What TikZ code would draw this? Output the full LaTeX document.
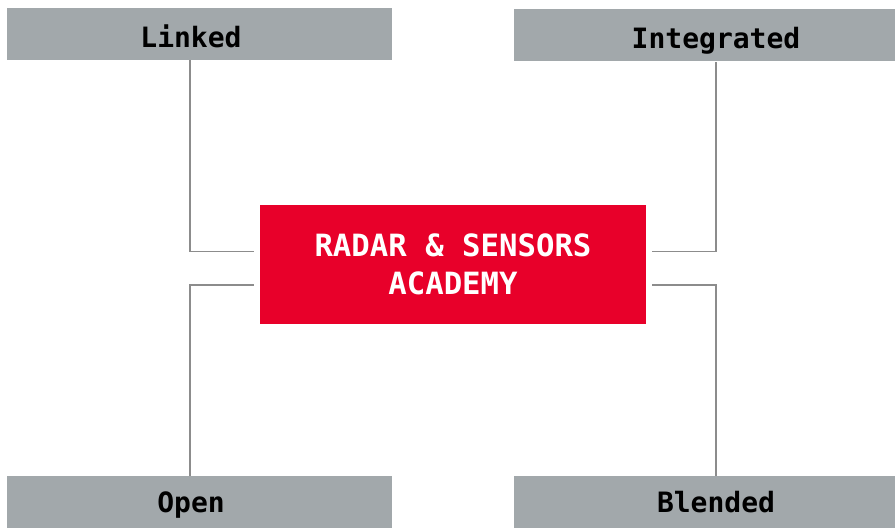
\documentclass[tikz,border=0pt]{standalone}
\usepackage{fontspec}
\setmonofont{DejaVu Sans Mono}
\usetikzlibrary{calc}

\definecolor{boxgray}{HTML}{A2A8AB}
\definecolor{hubred}{HTML}{E8002A}
\definecolor{linegray}{HTML}{8C8C8C}

\tikzset{
  leaf/.style={fill=boxgray, inner sep=0pt, minimum height=52*0.75pt},
  leaftext/.style={inner sep=0pt, text height=15.3pt, text depth=0pt,
    font=\ttfamily\bfseries\fontsize{21}{24}\selectfont, text=black},
  hub/.style={fill=hubred, inner sep=0pt, minimum width=386*0.75pt,
    minimum height=119*0.75pt, align=center, text=white,
    font=\ttfamily\bfseries\fontsize{23}{28.5}\selectfont},
  link/.style={draw=linegray, line width=0.8pt}
}

\begin{document}
\begin{tikzpicture}[x=0.75pt,y=-0.75pt]
	\useasboundingbox (0,0) rectangle (895,528);
	% outer boxes
	\node[leaf, minimum width=385*0.75pt] (linked) at (199.5,34) {};
	\node[leaf, minimum width=381*0.75pt] (integrated) at (704.5,35.5) {};
	\node[leaf, minimum width=385*0.75pt] (open) at (199.5,502) {};
	\node[leaf, minimum width=381*0.75pt] (blended) at (704.5,502) {};
	% their labels, centred over the lines
	\node[leaftext] (linkedtext) at (191,37.5) {Linked};
	\node[leaftext] (integratedtext) at (716,38) {Integrated};
	\node[leaftext] (opentext) at (191,502) {Open};
	\node[leaftext] (blendedtext) at (716,502) {Blended};
	% centre
	\node[hub] (academy) at (453,264) {RADAR \& SENSORS\\ACADEMY};
	% free ends beside the centre box
	\coordinate (lkend) at (254,251.5);
	\coordinate (inend) at (652,251.5);
	\coordinate (opend) at (254,285);
	\coordinate (blend) at (652,285);
	\draw[link] ($(linked.south)+(-9.5,0)$) |- (lkend);
	\draw[link] ($(integrated.south)+(11.5,0)$) |- (inend);
	\draw[link] ($(open.north)+(-9.5,0)$) |- (opend);
	\draw[link] ($(blended.north)+(11.5,0)$) |- (blend);
\end{tikzpicture}
\end{document}
